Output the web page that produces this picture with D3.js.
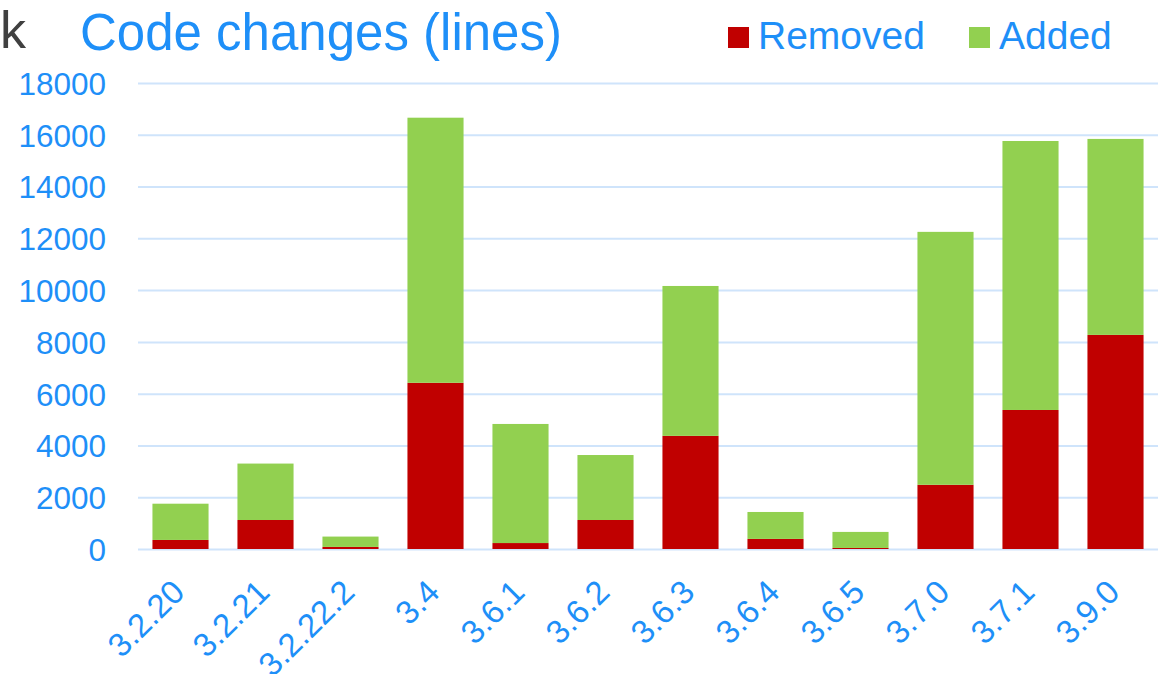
<!DOCTYPE html>
<html>
<head>
<meta charset="utf-8">
<script src="https://cdn.jsdelivr.net/npm/d3@7"></script>
<style>
  html, body { margin: 0; padding: 0; background: #fff; }
  #chart { width: 1161px; height: 674px; }
  text { font-family: "Liberation Sans", Arial, sans-serif; }
</style>
</head>
<body>
<div id="chart"></div>
<script>
const versions = ["3.2.20", "3.2.21", "3.2.22.2", "3.4", "3.6.1", "3.6.2", "3.6.3", "3.6.4", "3.6.5", "3.7.0", "3.7.1", "3.9.0"]
const removed = [350, 1120, 80, 6420, 230, 1120, 4370, 390, 40, 2480, 5370, 8270]
const added = [1400, 2180, 400, 10240, 4600, 2510, 5790, 1040, 620, 9770, 10390, 7570]
const yTicks = [0, 2000, 4000, 6000, 8000, 10000, 12000, 14000, 16000, 18000]
const seriesNames = ["Removed", "Added"]

const blue = "#1e8ff8"
const colors = { Removed: "#c00000", Added: "#92d050" }

function createCodeChart() {
  const container = document.getElementById("chart")
  const W = 1161
  const H = 674
  const margin = { top: 83, right: 3, bottom: 125, left: 138 }
  const width = W - margin.left - margin.right
  const height = H - margin.top - margin.bottom

  const svg = d3.select(container)
    .append("svg")
    .attr("width", W)
    .attr("height", H)

  const g = svg.append("g").attr("transform", `translate(${margin.left},${margin.top})`)

  const rows = versions.map((v, i) => ({ version: v, Removed: removed[i], Added: added[i] }))
  const stacked = d3.stack().keys(seriesNames)(rows)

  const xScale = d3.scaleBand()
    .domain(versions)
    .range([0, width])
    .paddingInner(0.34)
    .paddingOuter(0.17)

  const yScale = d3.scaleLinear()
    .domain([0, 18000])
    .range([height, 0])

  // gridlines + y labels
  const yAxis = g.append("g")
    .call(d3.axisLeft(yScale).tickValues(yTicks).tickSize(-width).tickPadding(32).tickFormat(d3.format("d")))
  yAxis.select(".domain").remove()
  yAxis.selectAll("line")
    .attr("stroke", "#cfe4fb")
    .attr("stroke-width", 2)
  yAxis.selectAll("text")
    .attr("fill", blue)
    .attr("font-size", "31.5px")
    .attr("font-family", "Liberation Sans, Arial, sans-serif")
    .attr("dy", "0.36em")

  g.selectAll(".series")
    .data(stacked)
    .enter()
    .append("g")
    .attr("class", "series")
    .attr("fill", (d) => colors[d.key])
    .selectAll("rect")
    .data((d) => d)
    .enter()
    .append("rect")
    .attr("x", (d) => xScale(d.data.version))
    .attr("width", xScale.bandwidth())
    .attr("y", (d) => yScale(d[1]))
    .attr("height", (d) => yScale(d[0]) - yScale(d[1]))

  // x labels, rotated
  const xAxis = g.append("g")
    .attr("transform", `translate(0,${height})`)
    .call(d3.axisBottom(xScale).tickSize(0))
  xAxis.select(".domain").remove()
  xAxis.selectAll("text")
    .attr("fill", blue)
    .attr("font-size", "33px")
    .attr("font-family", "Liberation Sans, Arial, sans-serif")
    .attr("text-anchor", "end")
    .attr("dy", null)
    .attr("y", 0)
    .attr("transform", "translate(6,45) rotate(-45)")

  // title
  svg.append("text")
    .attr("x", 26)
    .attr("y", 48)
    .attr("text-anchor", "end")
    .attr("fill", "#404040")
    .attr("font-size", "52px")
    .text("k")

  svg.append("text")
    .attr("x", 80)
    .attr("y", 50)
    .attr("fill", blue)
    .attr("font-size", "51px")
    .text("Code changes (lines)")

  // legend
  const legendX = [728, 969]
  const legend = svg.selectAll(".legend")
    .data(seriesNames)
    .enter()
    .append("g")
    .attr("class", "legend")
    .attr("transform", (d, i) => `translate(${legendX[i]},0)`)
  legend.append("rect")
    .attr("x", 0)
    .attr("y", 27)
    .attr("width", 21)
    .attr("height", 21)
    .attr("fill", (d) => colors[d])
  legend.append("text")
    .attr("x", 30)
    .attr("y", 49)
    .attr("fill", blue)
    .attr("font-size", "39px")
    .text((d) => d)
}

createCodeChart()
</script>
</body>
</html>
